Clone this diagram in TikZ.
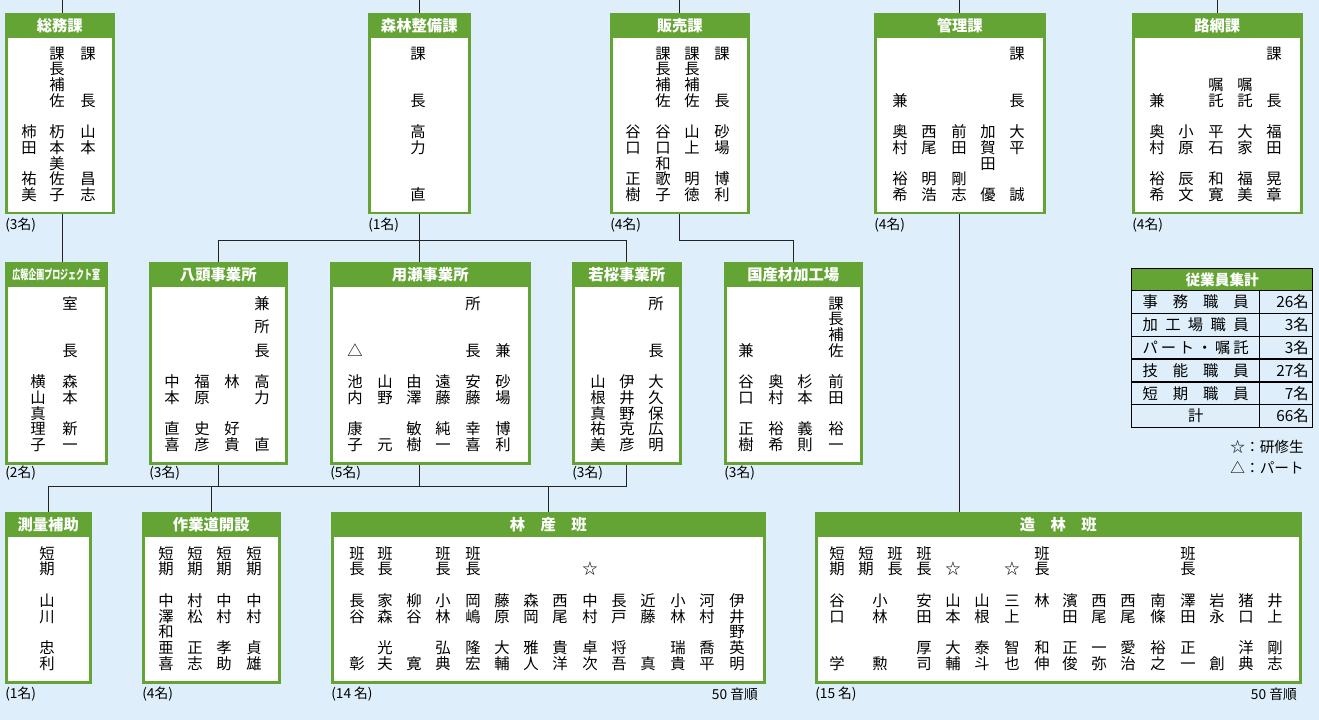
\documentclass[tikz,border=0pt]{standalone}
\usepackage{fontspec}
\setmainfont{Noto Sans CJK JP}
\usepackage{graphicx}

\definecolor{haikei}{RGB}{222,239,251}
\definecolor{midori}{RGB}{99,164,52}
\definecolor{sen}{RGB}{35,35,35}

\newdimen\pix \pix=0.75pt
\newdimen\tatepitch \tatepitch=15.7\pix
% tategaki: "." = one empty slot, "," = half slot
\def\tate#1{\vbox{\offinterlineskip\expandafter\tatei#1\relax}}
\def\tatei#1{\ifx#1\relax\else\tatemoji#1\expandafter\tatei\fi}
\def\tatemoji#1{\ifx#1.\kern\tatepitch\else\ifx#1,\kern0.5\tatepitch\else
  \hbox to\tatepitch{\hss\vrule height0.88\tatepitch depth0.12\tatepitch width0pt\relax#1\hss}\fi\fi}

\tikzset{
  waku/.style={draw=midori, line width=2.5\pix, fill=white, inner sep=0pt, anchor=north west},
  midashi/.style={fill=midori, text=white, inner sep=0pt, minimum height=25\pix, anchor=north,
    font=\fontsize{11.5pt}{13pt}\selectfont\bfseries},
  tate/.style={anchor=north, inner sep=0pt, font=\fontsize{11.5pt}{13pt}\selectfont},
  ninzu/.style={anchor=west, inner sep=0pt, font=\fontsize{10.3pt}{12pt}\selectfont},
  renraku/.style={draw=sen, line width=1\pix},
  hyou/.style={draw=black, line width=1.3\pix, inner sep=0pt, anchor=north west,
    minimum height=22.8\pix, font=\fontsize{11.5pt}{12pt}\selectfont},
  hidari/.style={hyou, minimum width=128\pix},
  migi/.style={hyou, minimum width=53\pix, text width=45\pix, align=right},
}

\begin{document}
\begin{tikzpicture}[x=0.75pt, y=-0.75pt]
        \fill[haikei] (0,0) rectangle (1319,720);
        \useasboundingbox (0,0) rectangle (1319,720);

        % ka (top row)
        \node[waku, minimum width=107\pix, minimum height=199\pix] (soumu) at (5,13) {};
        \node[midashi, minimum width=107\pix] (soumuh) at (soumu.north) {総務課};
        \node[waku, minimum width=100\pix, minimum height=199\pix] (shinrin) at (368,13) {};
        \node[midashi, minimum width=100\pix] (shinrinh) at (shinrin.north) {森林整備課};
        \node[waku, minimum width=137\pix, minimum height=199\pix] (hanbai) at (610,13) {};
        \node[midashi, minimum width=137\pix] (hanbaih) at (hanbai.north) {販売課};
        \node[waku, minimum width=169\pix, minimum height=199\pix] (kanri) at (874,13) {};
        \node[midashi, minimum width=169\pix] (kanrih) at (kanri.north) {管理課};
        \node[waku, minimum width=168\pix, minimum height=199\pix] (romou) at (1132,13) {};
        \node[midashi, minimum width=168\pix] (romouh) at (romou.north) {路網課};

        \node[tate] (soumu1) at (29,45.2) {\tate{.....柿田.祐美}};
        \node[tate] (soumu2) at (57,45.2) {\tate{課長補佐.杤本美佐子}};
        \node[tate] (soumu3) at (88,45.2) {\tate{課..長.山本.昌志}};
        \node[tate] (shinrin1) at (418,45.2) {\tate{課..長.高力..直}};
        \node[tate] (hanbai1) at (633,45.2) {\tate{.....谷口.正樹}};
        \node[tate] (hanbai2) at (663,45.2) {\tate{課長補佐.谷口和歌子}};
        \node[tate] (hanbai3) at (692,45.2) {\tate{課長補佐.山上.明徳}};
        \node[tate] (hanbai4) at (722,45.2) {\tate{課..長.砂場.博利}};
        \node[tate] (kanri1) at (900,45.2) {\tate{...兼.奥村.裕希}};
        \node[tate] (kanri2) at (929,45.2) {\tate{.....西尾.明浩}};
        \node[tate] (kanri3) at (959,45.2) {\tate{.....前田.剛志}};
        \node[tate] (kanri4) at (988,45.2) {\tate{.....加賀田.優}};
        \node[tate] (kanri5) at (1017,45.2) {\tate{課..長.大平..誠}};
        \node[tate] (romou1) at (1157,45.2) {\tate{...兼.奥村.裕希}};
        \node[tate] (romou2) at (1186,45.2) {\tate{.....小原.辰文}};
        \node[tate] (romou3) at (1216,45.2) {\tate{..嘱託.平石.和寛}};
        \node[tate] (romou4) at (1245,45.2) {\tate{..嘱託.大家.福美}};
        \node[tate] (romou5) at (1274,45.2) {\tate{課..長.福田.晃章}};

        \node[ninzu] (soumun) at (5,225) {(3名)};
        \node[ninzu] (shinrinn) at (368,225) {(1名)};
        \node[ninzu] (hanbain) at (610,225) {(4名)};
        \node[ninzu] (kanrin) at (874,225) {(4名)};
        \node[ninzu] (romoun) at (1132,225) {(4名)};

        % jigyousho (middle row)
        \node[waku, minimum width=100\pix, minimum height=200\pix] (kouhou) at (5,262) {};
        \node[midashi, minimum width=100\pix] (kouhouh) at (kouhou.north)
        {\fontsize{9.5pt}{11pt}\selectfont\scalebox{0.63}[1]{広報企画プロジェクト室}};
        \node[waku, minimum width=136\pix, minimum height=200\pix] (yazu) at (149,262) {};
        \node[midashi, minimum width=136\pix] (yazuh) at (yazu.north) {八頭事業所};
        \node[waku, minimum width=198\pix, minimum height=200\pix] (mochigase) at (330,262) {};
        \node[midashi, minimum width=198\pix] (mochigaseh) at (mochigase.north) {用瀬事業所};
        \node[waku, minimum width=107\pix, minimum height=200\pix] (wakasa) at (572,262) {};
        \node[midashi, minimum width=107\pix] (wakasah) at (wakasa.north) {若桜事業所};
        \node[waku, minimum width=136\pix, minimum height=200\pix] (kokusan) at (724,262) {};
        \node[midashi, minimum width=136\pix] (kokusanh) at (kokusan.north) {国産材加工場};

        \node[tate] (kouhou1) at (38,295.2) {\tate{.....横山真理子}};
        \node[tate] (kouhou2) at (70,295.2) {\tate{室..長.森本.新一}};
        \node[tate] (yazu1) at (172,295.2) {\tate{.....中本.直喜}};
        \node[tate] (yazu2) at (202,295.2) {\tate{.....福原.史彦}};
        \node[tate] (yazu3) at (232,295.2) {\tate{.....林..好貴}};
        \node[tate] (yazu4) at (262,295.2) {\tate{兼,所,長.高力..直}};
        \node[tate] (mochigase1) at (355,295.2) {\tate{...△.池内.康子}};
        \node[tate] (mochigase2) at (385,295.2) {\tate{.....山野..元}};
        \node[tate] (mochigase3) at (414,295.2) {\tate{.....由澤.敏樹}};
        \node[tate] (mochigase4) at (443,295.2) {\tate{.....遠藤.純一}};
        \node[tate] (mochigase5) at (473,295.2) {\tate{所..長.安藤.幸喜}};
        \node[tate] (mochigase6) at (503,295.2) {\tate{...兼.砂場.博利}};
        \node[tate] (wakasa1) at (598,295.2) {\tate{.....山根真祐美}};
        \node[tate] (wakasa2) at (627,295.2) {\tate{.....伊井野克彦}};
        \node[tate] (wakasa3) at (656,295.2) {\tate{所..長.大久保広明}};
        \node[tate] (kokusan1) at (746,295.2) {\tate{...兼.谷口.正樹}};
        \node[tate] (kokusan2) at (776,295.2) {\tate{.....奥村.裕希}};
        \node[tate] (kokusan3) at (805,295.2) {\tate{.....杉本.義則}};
        \node[tate] (kokusan4) at (836,295.2) {\tate{課長補佐.前田.裕一}};

        \node[ninzu] (kouhoun) at (5,473) {(2名)};
        \node[ninzu] (yazun) at (149,473) {(3名)};
        \node[ninzu] (mochigasen) at (330,473) {(5名)};
        \node[ninzu] (wakasan) at (572,473) {(3名)};
        \node[ninzu] (kokusann) at (724,473) {(3名)};

        % han (bottom row)
        \node[waku, minimum width=84\pix, minimum height=169\pix] (sokuryou) at (5,512) {};
        \node[midashi, minimum width=84\pix] (sokuryouh) at (sokuryou.north) {測量補助};
        \node[waku, minimum width=136\pix, minimum height=169\pix] (sagyou) at (142,512) {};
        \node[midashi, minimum width=136\pix] (sagyouh) at (sagyou.north) {作業道開設};
        \node[waku, minimum width=432\pix, minimum height=169\pix] (rinsan) at (331,512) {};
        \node[midashi, minimum width=432\pix] (rinsanh) at (rinsan.north) {林\hspace{1em}産\hspace{1em}班};
        \node[waku, minimum width=484\pix, minimum height=169\pix] (zourin) at (815,512) {};
        \node[midashi, minimum width=484\pix] (zourinh) at (zourin.north) {造\hspace{1em}林\hspace{1em}班};

        \node[tate] (sokuryou1) at (47,545.2) {\tate{短期.山川.忠利}};
        \node[tate] (sagyou1) at (166,545.2) {\tate{短期.中澤和亜喜}};
        \node[tate] (sagyou2) at (195,545.2) {\tate{短期.村松.正志}};
        \node[tate] (sagyou3) at (224,545.2) {\tate{短期.中村.孝助}};
        \node[tate] (sagyou4) at (254,545.2) {\tate{短期.中村.貞雄}};

        \node[tate] (rinsan1) at (357,545.2) {\tate{班長.長谷..彰}};
        \node[tate] (rinsan2) at (385,545.2) {\tate{班長.家森.光夫}};
        \node[tate] (rinsan3) at (414,545.2) {\tate{...柳谷..寛}};
        \node[tate] (rinsan4) at (443,545.2) {\tate{班長.小林.弘典}};
        \node[tate] (rinsan5) at (473,545.2) {\tate{班長.岡嶋.隆宏}};
        \node[tate] (rinsan6) at (502,545.2) {\tate{...藤原.大輔}};
        \node[tate] (rinsan7) at (531,545.2) {\tate{...森岡.雅人}};
        \node[tate] (rinsan8) at (560,545.2) {\tate{...西尾.貴洋}};
        \node[tate] (rinsan9) at (590,545.2) {\tate{.☆.中村.卓次}};
        \node[tate] (rinsan10) at (619,545.2) {\tate{...長戸.将吾}};
        \node[tate] (rinsan11) at (648,545.2) {\tate{...近藤..真}};
        \node[tate] (rinsan12) at (678,545.2) {\tate{...小林.瑞貴}};
        \node[tate] (rinsan13) at (707,545.2) {\tate{...河村.喬平}};
        \node[tate] (rinsan14) at (737,545.2) {\tate{...伊井野英明}};

        \node[tate] (zourin1) at (837,545.2) {\tate{短期.谷口..学}};
        \node[tate] (zourin2) at (866,545.2) {\tate{短期}};
        \node[tate] (zourin3) at (880,545.2) {\tate{...小林..勲}};
        \node[tate] (zourin4) at (895,545.2) {\tate{班長}};
        \node[tate] (zourin5) at (924,545.2) {\tate{班長.安田.厚司}};
        \node[tate] (zourin6) at (953,545.2) {\tate{.☆.山本.大輔}};
        \node[tate] (zourin7) at (982,545.2) {\tate{...山根.泰斗}};
        \node[tate] (zourin8) at (1012,545.2) {\tate{.☆.三上.智也}};
        \node[tate] (zourin9) at (1042,545.2) {\tate{班長.林..和伸}};
        \node[tate] (zourin10) at (1070,545.2) {\tate{...濱田.正俊}};
        \node[tate] (zourin11) at (1099,545.2) {\tate{...西尾.一弥}};
        \node[tate] (zourin12) at (1128,545.2) {\tate{...西尾.愛治}};
        \node[tate] (zourin13) at (1158,545.2) {\tate{...南條.裕之}};
        \node[tate] (zourin14) at (1188,545.2) {\tate{班長.澤田.正一}};
        \node[tate] (zourin15) at (1217,545.2) {\tate{...岩永..創}};
        \node[tate] (zourin16) at (1246,545.2) {\tate{...猪口.洋典}};
        \node[tate] (zourin17) at (1275,545.2) {\tate{...井上.剛志}};

        \node[ninzu] (sokuryoun) at (5,694) {(1名)};
        \node[ninzu] (sagyoun) at (142,694) {(4名)};
        \node[ninzu] (rinsann) at (331,694) {(14 名)};
        \node[ninzu, anchor=east] (rinsanj) at (758,694) {50 音順};
        \node[ninzu] (zourinn) at (815,694) {(15 名)};
        \node[ninzu, anchor=east] (zourinj) at (1297,694) {50 音順};

        % connectors
        \coordinate (ue1) at (62,0);
        \coordinate (bus1) at (0,240);
        \coordinate (bus2) at (0,486);
        \draw[renraku] (ue1) -- (ue1 |- soumu.north);
        \draw[renraku] (ue1 |- soumu.south) -- (ue1 |- kouhou.north);
        \draw[renraku] (shinrin.north) -- (shinrin.north |- ue1);
        \draw[renraku] (hanbai.north) -- (hanbai.north |- ue1);
        \draw[renraku] (kanri.north) -- (kanri.north |- ue1);
        \draw[renraku] (romou.north) -- (romou.north |- ue1);
        \draw[renraku] (shinrin.south) -- (shinrin.south |- mochigase.north);
        \draw[renraku] (yazu.north) -- (yazu.north |- bus1) -- (wakasa.north |- bus1) -- (wakasa.north);
        \draw[renraku] (hanbai.south) -- (hanbai.south |- bus1) -- (kokusan.north |- bus1) -- (kokusan.north);
        \draw[renraku] (kanri.south) -- (kanri.south |- zourin.north);
        \draw[renraku] (yazu.south) -- (yazu.south |- bus2);
        \draw[renraku] (mochigase.south -| shinrin.south) -- (shinrin.south |- bus2);
        \draw[renraku] (wakasa.south) -- (wakasa.south |- bus2) -- (sokuryou.north |- bus2) -- (sokuryou.north);
        \draw[renraku] (sagyou.north) -- (sagyou.north |- bus2);
        \draw[renraku] (rinsan.north) -- (rinsan.north |- bus2);

        % shuukei
        \node[hyou, fill=midori, text=white, minimum width=181\pix, minimum height=22\pix,
          font=\fontsize{11pt}{12pt}\selectfont\bfseries] (shukei) at (1131,268) {従業員集計};
        \node[hidari] (jimu) at (1131,290) {\makebox[106\pix][s]{事\hfill 務\hfill 職\hfill 員}};
        \node[migi] (jimun) at (1259,290) {26名};
        \node[hidari] (kakou) at (1131,312.8) {\makebox[106\pix][s]{加\hfill 工\hfill 場\hfill 職\hfill 員}};
        \node[migi] (kakoun) at (1259,312.8) {3名};
        \node[hidari] (paato) at (1131,335.6) {\makebox[106\pix][s]{パ\hfill ー\hfill ト\hfill ・\hfill 嘱\hfill 託}};
        \node[migi] (paaton) at (1259,335.6) {3名};
        \node[hidari] (ginou) at (1131,358.4) {\makebox[106\pix][s]{技\hfill 能\hfill 職\hfill 員}};
        \node[migi] (ginoun) at (1259,358.4) {27名};
        \node[hidari] (tanki) at (1131,381.2) {\makebox[106\pix][s]{短\hfill 期\hfill 職\hfill 員}};
        \node[migi] (tankin) at (1259,381.2) {7名};
        \node[hidari] (kei) at (1131,404) {計};
        \node[migi] (kein) at (1259,404) {66名};

        \node[anchor=east, inner sep=0pt, font=\fontsize{11pt}{12pt}\selectfont] (hanrei1) at (1304,447) {☆：研修生};
        \node[anchor=east, inner sep=0pt, font=\fontsize{11pt}{12pt}\selectfont] (hanrei2) at (1304,468) {△：パート};
      \end{tikzpicture}
\end{document}
